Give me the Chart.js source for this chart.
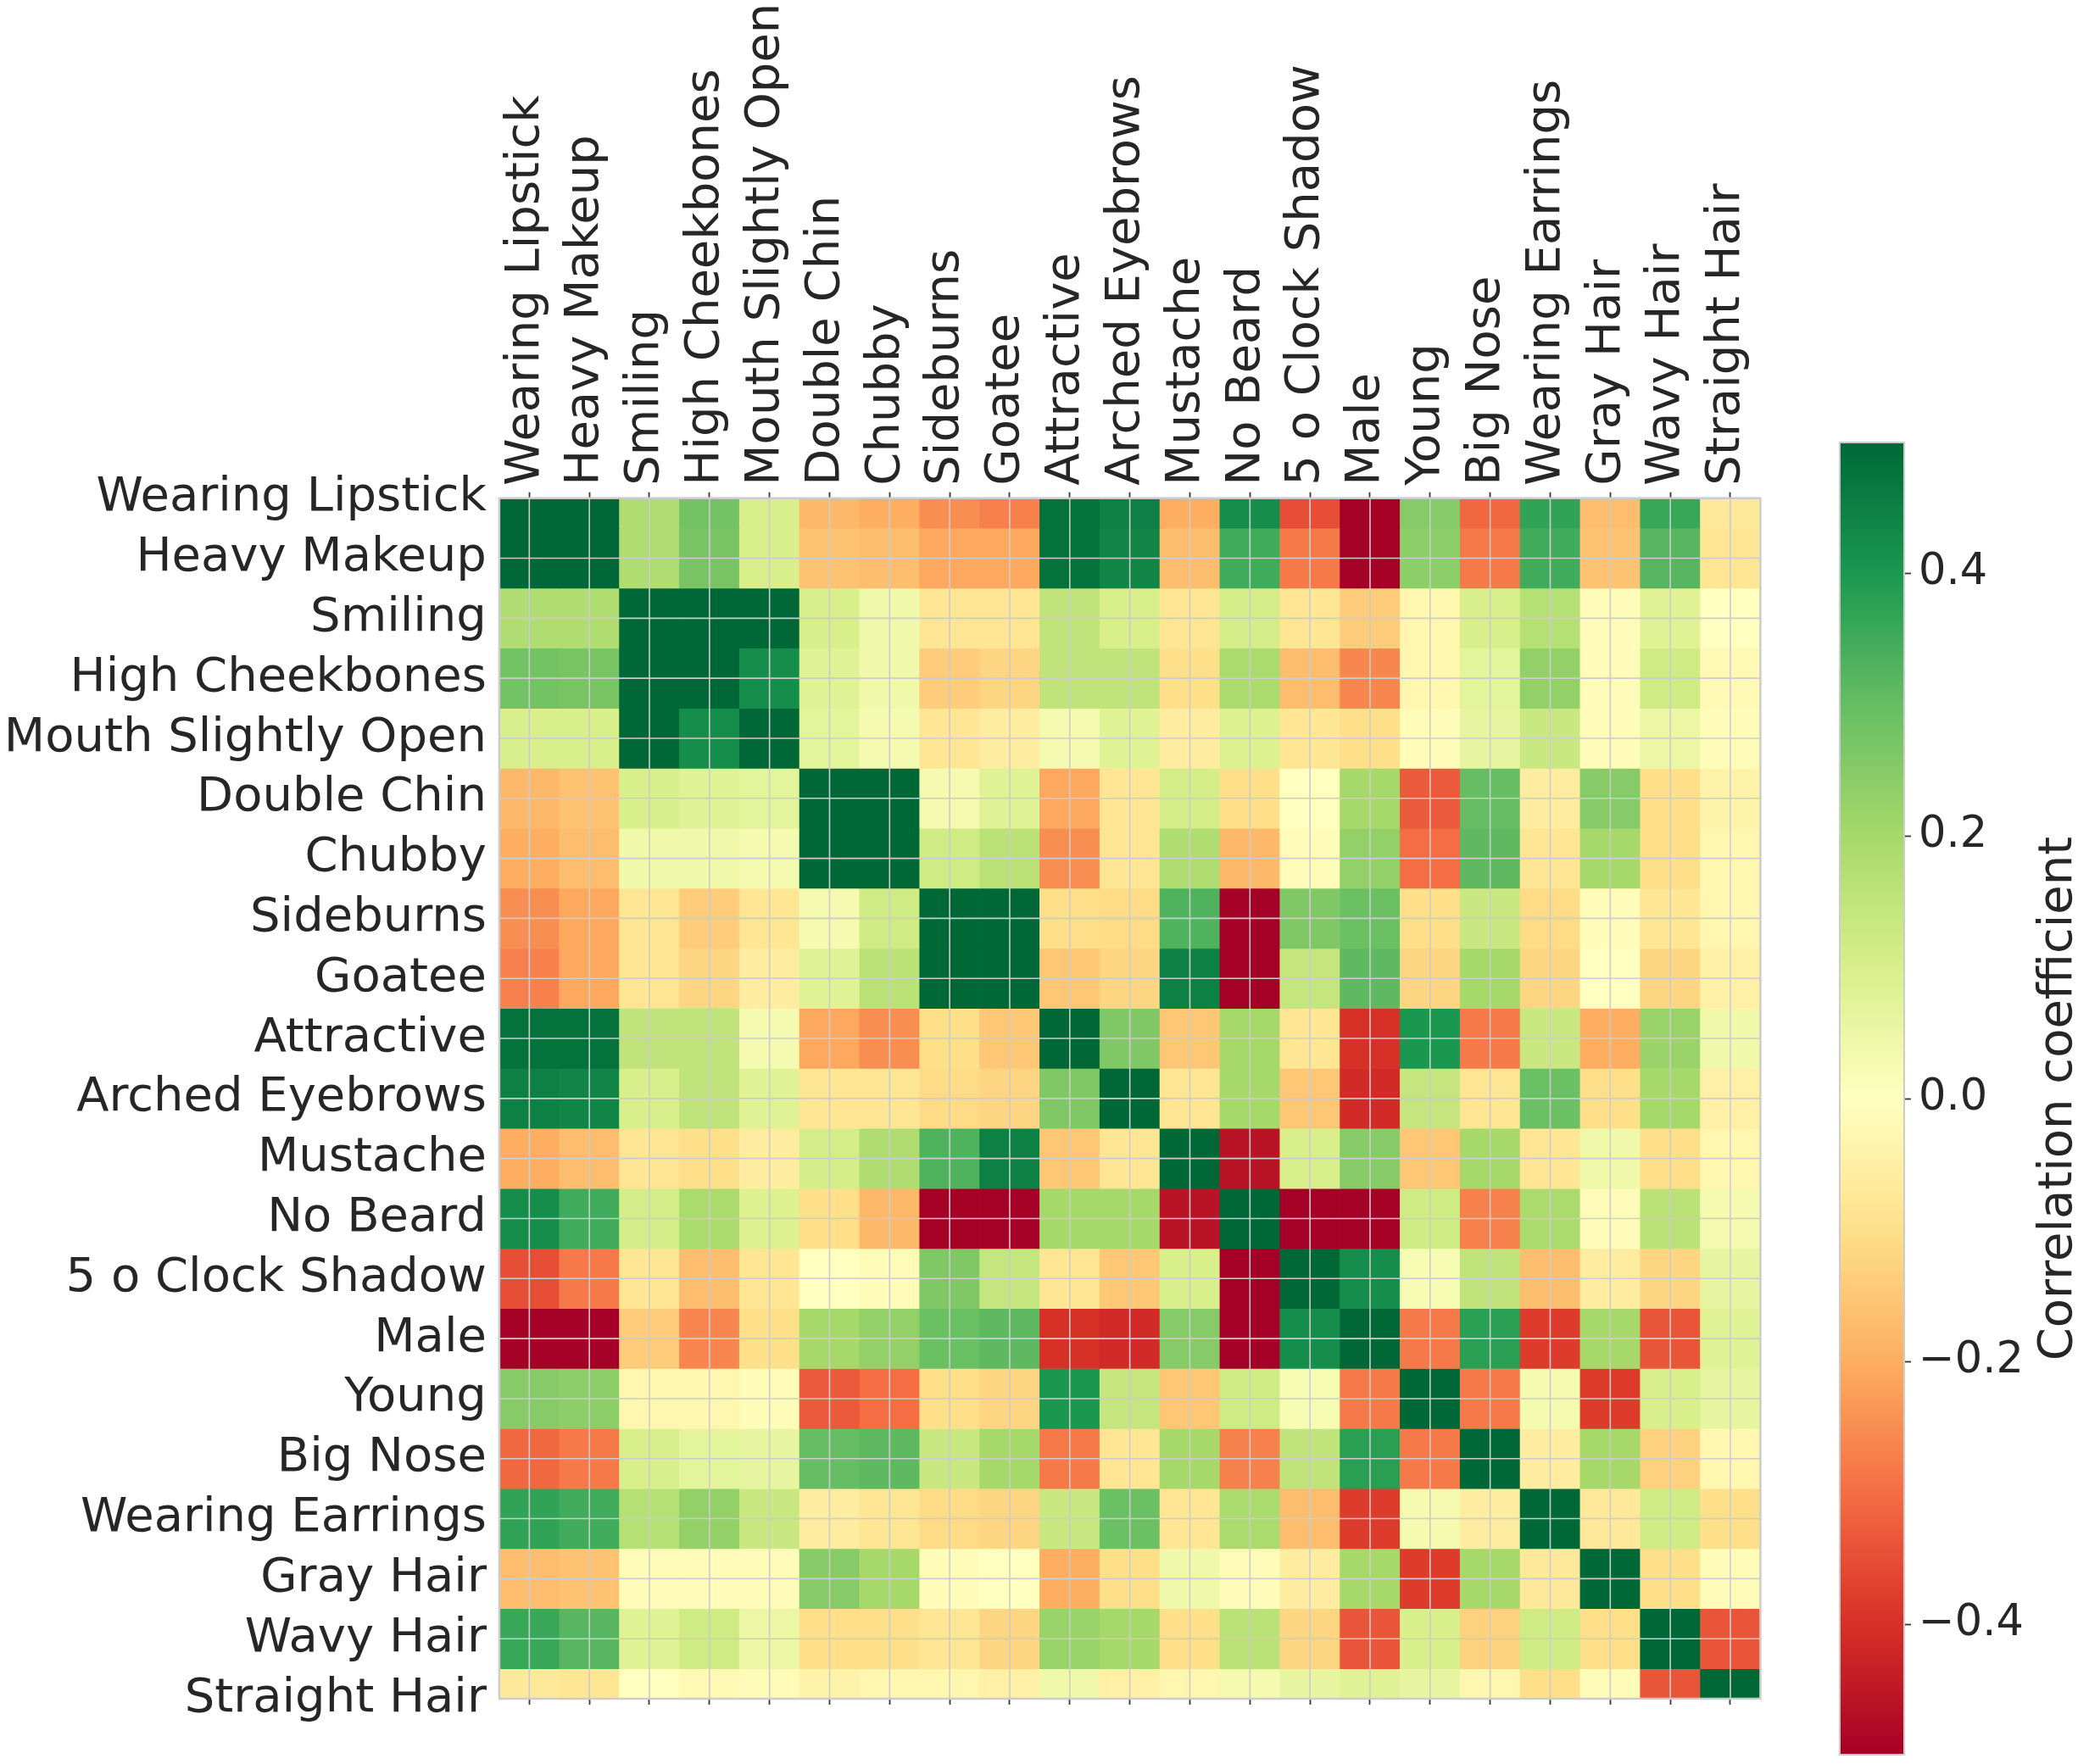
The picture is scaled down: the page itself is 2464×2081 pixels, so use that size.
<!DOCTYPE html>
<html>
<head>
<meta charset="utf-8">
<script src="https://cdn.jsdelivr.net/npm/chart.js@4.4.1/dist/chart.umd.min.js"></script>
<style>
    html, body { margin: 0; padding: 0; background: #ffffff; }
    body { width: 2464px; height: 2081px; position: relative; overflow: hidden; }
    #heat { position: absolute; left: 0; top: 0; }
    #cbar { position: absolute; left: 2110px; top: 0; }
</style>
</head>
<body>
<canvas id="heat" width="2110" height="2081"></canvas>
<canvas id="cbar" width="354" height="2081"></canvas>
<script>
// Attributes (same order for rows and columns)
const attrs = [
    'Wearing Lipstick', 'Heavy Makeup', 'Smiling', 'High Cheekbones', 'Mouth Slightly Open',
    'Double Chin', 'Chubby', 'Sideburns', 'Goatee', 'Attractive', 'Arched Eyebrows',
    'Mustache', 'No Beard', '5 o Clock Shadow', 'Male', 'Young', 'Big Nose',
    'Wearing Earrings', 'Gray Hair', 'Wavy Hair', 'Straight Hair'
];

// Correlation rows
const rowWearingLipstick = [1, 0.80, 0.18, 0.28, 0.10, -0.18, -0.20, -0.25, -0.27, 0.48, 0.45, -0.20, 0.42, -0.35, -0.67, 0.25, -0.31, 0.37, -0.17, 0.36, -0.07];
const rowHeavyMakeup = [0.80, 1, 0.18, 0.27, 0.10, -0.16, -0.17, -0.21, -0.21, 0.48, 0.44, -0.17, 0.35, -0.28, -0.67, 0.24, -0.28, 0.35, -0.16, 0.32, -0.08];
const rowSmiling = [0.18, 0.18, 1, 0.68, 0.53, 0.10, 0.04, -0.08, -0.08, 0.15, 0.10, -0.08, 0.11, -0.08, -0.14, -0.03, 0.10, 0.17, -0.01, 0.08, 0.00];
const rowHighCheekbones = [0.28, 0.27, 0.68, 1, 0.42, 0.08, 0.04, -0.14, -0.12, 0.15, 0.15, -0.10, 0.19, -0.17, -0.26, -0.03, 0.07, 0.23, -0.01, 0.12, -0.02];
const rowMouthOpen = [0.10, 0.10, 0.53, 0.42, 1, 0.07, 0.03, -0.08, -0.06, 0.03, 0.08, -0.06, 0.09, -0.08, -0.10, -0.01, 0.06, 0.13, -0.01, 0.05, -0.01];
const rowDoubleChin = [-0.18, -0.16, 0.10, 0.08, 0.07, 1, 0.60, 0.03, 0.08, -0.21, -0.08, 0.11, -0.10, 0.00, 0.20, -0.33, 0.30, -0.06, 0.25, -0.10, -0.04];
const rowChubby = [-0.20, -0.17, 0.04, 0.04, 0.03, 0.60, 1, 0.12, 0.16, -0.25, -0.08, 0.18, -0.18, -0.01, 0.23, -0.30, 0.31, -0.08, 0.20, -0.10, -0.03];
const rowSideburns = [-0.25, -0.21, -0.08, -0.14, -0.08, 0.03, 0.12, 1, 0.70, -0.10, -0.11, 0.33, -0.60, 0.26, 0.29, -0.10, 0.13, -0.11, -0.01, -0.08, -0.03];
const rowGoatee = [-0.27, -0.21, -0.08, -0.12, -0.06, 0.08, 0.16, 0.70, 1, -0.15, -0.12, 0.45, -0.60, 0.14, 0.31, -0.12, 0.20, -0.12, 0.00, -0.12, -0.05];
const rowAttractive = [0.48, 0.48, 0.15, 0.15, 0.03, -0.21, -0.25, -0.10, -0.15, 1, 0.26, -0.15, 0.20, -0.08, -0.40, 0.40, -0.28, 0.13, -0.20, 0.22, 0.04];
const rowArchedEyebrows = [0.45, 0.44, 0.10, 0.15, 0.08, -0.08, -0.08, -0.11, -0.12, 0.26, 1, -0.08, 0.20, -0.15, -0.41, 0.14, -0.08, 0.29, -0.10, 0.20, -0.05];
const rowMustache = [-0.20, -0.17, -0.08, -0.10, -0.06, 0.11, 0.18, 0.33, 0.45, -0.15, -0.08, 1, -0.46, 0.10, 0.25, -0.15, 0.20, -0.08, 0.04, -0.10, -0.03];
const rowNoBeard = [0.42, 0.35, 0.11, 0.19, 0.09, -0.10, -0.18, -0.60, -0.60, 0.20, 0.20, -0.46, 1, -0.55, -0.60, 0.12, -0.27, 0.19, -0.01, 0.16, 0.03];
const rowShadow = [-0.35, -0.28, -0.08, -0.17, -0.08, 0.00, -0.01, 0.26, 0.14, -0.08, -0.15, 0.10, -0.55, 1, 0.42, 0.02, 0.15, -0.17, -0.06, -0.12, 0.06];
const rowMale = [-0.67, -0.67, -0.14, -0.26, -0.10, 0.20, 0.23, 0.29, 0.31, -0.40, -0.41, 0.25, -0.60, 0.42, 1, -0.28, 0.38, -0.38, 0.20, -0.34, 0.08];
const rowYoung = [0.25, 0.24, -0.03, -0.03, -0.01, -0.33, -0.30, -0.10, -0.12, 0.40, 0.14, -0.15, 0.12, 0.02, -0.28, 1, -0.28, 0.03, -0.38, 0.10, 0.06];
const rowBigNose = [-0.31, -0.28, 0.10, 0.07, 0.06, 0.30, 0.31, 0.13, 0.20, -0.28, -0.08, 0.20, -0.27, 0.15, 0.38, -0.28, 1, -0.06, 0.20, -0.13, -0.03];
const rowEarrings = [0.37, 0.35, 0.17, 0.23, 0.13, -0.06, -0.08, -0.11, -0.12, 0.13, 0.29, -0.08, 0.19, -0.17, -0.38, 0.03, -0.06, 1, -0.07, 0.12, -0.10];
const rowGrayHair = [-0.17, -0.16, -0.01, -0.01, -0.01, 0.25, 0.20, -0.01, 0.00, -0.20, -0.10, 0.04, -0.01, -0.06, 0.20, -0.38, 0.20, -0.07, 1, -0.10, -0.01];
const rowWavyHair = [0.36, 0.32, 0.08, 0.12, 0.05, -0.10, -0.10, -0.08, -0.12, 0.22, 0.20, -0.10, 0.16, -0.12, -0.34, 0.10, -0.13, 0.12, -0.10, 1, -0.34];
const rowStraightHair = [-0.07, -0.08, 0.00, -0.02, -0.01, -0.04, -0.03, -0.03, -0.05, 0.04, -0.05, -0.03, 0.03, 0.06, 0.08, 0.06, -0.03, -0.10, -0.01, -0.34, 1];

const corr = [
    rowWearingLipstick, rowHeavyMakeup, rowSmiling, rowHighCheekbones, rowMouthOpen,
    rowDoubleChin, rowChubby, rowSideburns, rowGoatee, rowAttractive, rowArchedEyebrows,
    rowMustache, rowNoBeard, rowShadow, rowMale, rowYoung, rowBigNose,
    rowEarrings, rowGrayHair, rowWavyHair, rowStraightHair
];

// Colour scale
const VMIN = -0.5;
const VMAX = 0.5;
const cbTicks = [-0.4, -0.2, 0.0, 0.2, 0.4];
const cbLabel = 'Correlation coefficient';
const RDYLGN = ['#a50026', '#d73027', '#f46d43', '#fdae61', '#fee08b', '#ffffbf',
                '#d9ef8b', '#a6d96a', '#66bd63', '#1a9850', '#006837'];

const TEXT = '#262626';
const TICK = '#363636';
const FONT = "'DejaVu Sans', sans-serif";
Chart.defaults.font.family = FONT;
Chart.defaults.color = TEXT;

function hexToRgb(h) {
    return [parseInt(h.slice(1, 3), 16), parseInt(h.slice(3, 5), 16), parseInt(h.slice(5, 7), 16)];
}

function cmap(v) {
    let t = (v - VMIN) / (VMAX - VMIN);
    t = Math.min(1, Math.max(0, t));
    const pos = t * (RDYLGN.length - 1);
    const i = Math.min(Math.floor(pos), RDYLGN.length - 2);
    const f = pos - i;
    const a = hexToRgb(RDYLGN[i]);
    const b = hexToRgb(RDYLGN[i + 1]);
    const c = a.map((x, k) => Math.round(x + (b[k] - x) * f));
    return `rgb(${c[0]}, ${c[1]}, ${c[2]})`;
}

// One dataset per row: floating bars one row high
const datasets = corr.map((row, r) => ({
    label: attrs[r],
    data: row.map(() => [r - 0.5, r + 0.5]),
    backgroundColor: row.map(cmap),
    borderWidth: 0,
    grouped: false,
    barPercentage: 1,
    categoryPercentage: 1,
    clip: 0
}));

// Grid lines and frame drawn over the cells
const overlay = {
    id: 'overlay',
    afterDatasetsDraw(chart) {
        const { ctx, chartArea: a, scales } = chart;
        ctx.save();
        ctx.strokeStyle = '#cccccc';
        ctx.lineWidth = 1.6;
        ctx.beginPath();
        scales.x.ticks.forEach((t, i) => {
            const px = scales.x.getPixelForTick(i);
            ctx.moveTo(px, a.top);
            ctx.lineTo(px, a.bottom);
        });
        scales.y.ticks.forEach(t => {
            const py = scales.y.getPixelForValue(t.value);
            ctx.moveTo(a.left, py);
            ctx.lineTo(a.right, py);
        });
        ctx.stroke();
        ctx.lineWidth = 2.5;
        ctx.strokeRect(a.left, a.top, a.right - a.left, a.bottom - a.top);
        ctx.restore();
    }
};

const tickGrid = {
    offset: false,
    drawOnChartArea: false,
    drawTicks: true,
    tickLength: 7,
    tickColor: TICK,
    tickWidth: 1.8
};

new Chart(document.getElementById('heat'), {
    type: 'bar',
    data: { labels: attrs, datasets: datasets },
    options: {
        responsive: false,
        animation: false,
        layout: { padding: { left: 0, top: 0, right: 33.6, bottom: 0 } },
        plugins: { legend: { display: false }, tooltip: { enabled: false } },
        scales: {
            x: {
                type: 'category',
                position: 'top',
                offset: true,
                grid: tickGrid,
                border: { display: false },
                ticks: {
                    autoSkip: false,
                    minRotation: 90,
                    maxRotation: 90,
                    padding: 8,
                    labelOffset: 63,
                    color: TEXT,
                    font: { size: 56 }
                },
                afterFit: s => { s.height = 587.7; }
            },
            x2: {
                type: 'category',
                position: 'bottom',
                offset: true,
                grid: tickGrid,
                border: { display: false },
                ticks: { display: false, autoSkip: false },
                afterFit: s => { s.height = 77; }
            },
            y: {
                type: 'linear',
                min: 0,
                max: attrs.length - 1,
                reverse: true,
                grid: { display: false, drawTicks: false },
                border: { display: false },
                ticks: {
                    autoSkip: false,
                    padding: 15,
                    color: TEXT,
                    font: { size: 56 },
                    callback: v => attrs[v]
                },
                afterBuildTicks: s => { s.ticks = attrs.map((_, i) => ({ value: i })); },
                afterFit: s => { s.width = 588.9; }
            }
        }
    },
    plugins: [overlay]
});

// Colour bar
function gradientFill(context) {
    const chart = context.chart;
    const y = chart.scales.y;
    if (!chart.chartArea || !y) return RDYLGN[5];
    const y0 = y.getPixelForValue(VMIN);
    const y1 = y.getPixelForValue(VMAX);
    if (!isFinite(y0) || !isFinite(y1)) return RDYLGN[5];
    const g = chart.ctx.createLinearGradient(0, y0, 0, y1);
    RDYLGN.forEach((c, i) => g.addColorStop(i / (RDYLGN.length - 1), c));
    return g;
}

const cbTitle = {
    id: 'cbTitle',
    afterDraw(chart) {
        const { ctx, chartArea: a } = chart;
        ctx.save();
        ctx.font = `56px ${FONT}`;
        ctx.fillStyle = TEXT;
        ctx.textAlign = 'center';
        ctx.textBaseline = 'alphabetic';
        ctx.translate(chart.scales.y.right - 21, (a.top + a.bottom) / 2);
        ctx.rotate(-Math.PI / 2);
        ctx.fillText(cbLabel, 0, 0);
        ctx.restore();
    }
};

new Chart(document.getElementById('cbar'), {
    type: 'bar',
    data: {
        labels: [''],
        datasets: [{
            data: [[VMIN, VMAX]],
            backgroundColor: gradientFill,
            borderColor: '#cccccc',
            borderWidth: 2,
            borderSkipped: false,
            inflateAmount: 0,
            barPercentage: 1,
            categoryPercentage: 1
        }]
    },
    options: {
        responsive: false,
        animation: false,
        layout: { padding: { left: 59, top: 521, right: 0, bottom: 10 } },
        plugins: { legend: { display: false }, tooltip: { enabled: false } },
        scales: {
            x: { display: false },
            y: {
                position: 'right',
                min: VMIN,
                max: VMAX,
                grid: { drawOnChartArea: false, tickLength: 7, tickColor: TICK, tickWidth: 1.8 },
                border: { display: false },
                ticks: {
                    padding: 9,
                    color: TEXT,
                    font: { size: 51 },
                    callback: v => (v < 0 ? '\u2212' : '') + Math.abs(v).toFixed(1)
                },
                afterBuildTicks: s => { s.ticks = cbTicks.map(v => ({ value: v })); },
                afterFit: s => {
                    s.width = 217;
                    s.paddingTop = 0;
                    s.paddingBottom = 0;
                }
            }
        }
    },
    plugins: [cbTitle]
});
</script>
</body>
</html>
